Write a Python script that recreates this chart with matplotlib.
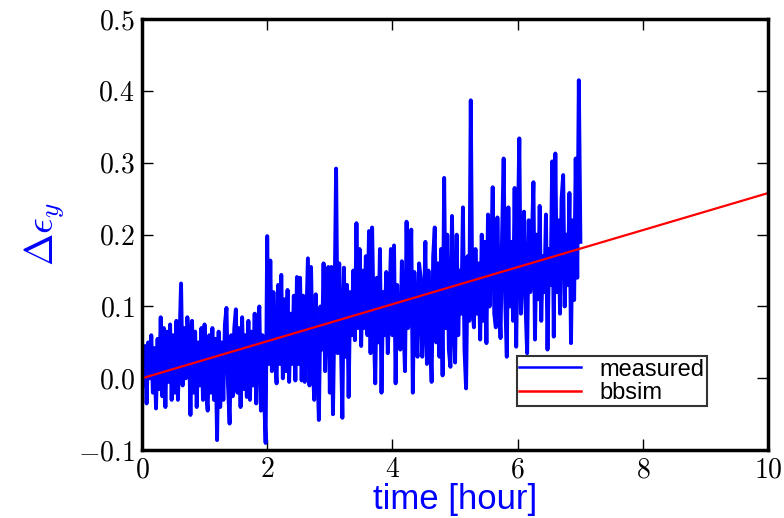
import numpy as np
import matplotlib
matplotlib.use('Agg')
import matplotlib.pyplot as plt
from matplotlib.ticker import FuncFormatter

plt.rcParams['mathtext.fontset'] = 'cm'
plt.rcParams['font.family'] = ['Liberation Sans', 'DejaVu Sans']

# measured emittance growth, one reading every 0.025 hour
meas_t = np.arange(0, 7.0125, 0.025)
meas_y = [
    0.03, -0.01, 0.045, -0.035, 0.05, 0.0, 0.06, -0.02, 0.042, -0.042,
    0.055, -0.015, 0.085, -0.025, 0.07, -0.04, 0.065, -0.005, 0.075, -0.03,
    0.06, -0.02, 0.08, -0.03, 0.05, 0.132, -0.01, 0.07, 0.0, 0.085,
    0.06, -0.051, 0.08, -0.02, 0.065, -0.04, 0.05, -0.01, 0.07, -0.03,
    0.075, -0.02, -0.045, 0.06, -0.02, 0.07, -0.03, 0.055, -0.086, 0.065,
    -0.04, 0.05, -0.03, 0.075, 0.098, -0.01, -0.063, 0.06, -0.025, 0.07,
    0.096, -0.02, 0.07, -0.04, 0.085, -0.015, 0.06, -0.026, 0.08, -0.03,
    0.065, -0.01, 0.09, -0.035, 0.075, 0.1, -0.045, 0.06, -0.02, -0.09,
    0.198, 0.02, 0.164, 0.01, 0.12, 0.03, -0.007, 0.13, 0.02, 0.144,
    0.0, 0.11, 0.01, 0.123, -0.005, 0.09, 0.02, 0.115, -0.003, 0.141,
    0.02, 0.14, -0.003, 0.115, -0.005, 0.08, 0.167, -0.01, 0.155, 0.03,
    -0.03, 0.117, 0.02, -0.058, 0.1, 0.04, 0.16, 0.01, 0.12, 0.155,
    -0.02, 0.155, -0.05, 0.1, 0.292, 0.035, 0.16, 0.06, -0.055, 0.154,
    0.03, 0.13, -0.026, 0.12, 0.06, 0.15, 0.053, 0.216, 0.07, 0.18,
    0.045, 0.15, 0.07, 0.17, 0.06, 0.205, 0.035, 0.21, 0.08, -0.007,
    0.14, 0.05, 0.18, -0.02, 0.12, 0.06, 0.148, 0.035, 0.1, 0.18,
    0.06, 0.185, -0.007, 0.13, 0.05, 0.04, 0.163, 0.08, 0.01, 0.218,
    0.07, 0.12, 0.207, -0.02, 0.148, 0.06, 0.03, 0.16, 0.14, 0.03,
    0.08, 0.19, 0.02, 0.15, 0.06, -0.005, 0.17, 0.21, 0.05, 0.16,
    0.03, 0.18, 0.004, 0.279, 0.07, 0.2, 0.04, 0.016, 0.226, 0.09,
    0.022, 0.2, 0.06, 0.15, 0.09, 0.238, 0.04, -0.014, 0.17, 0.08,
    0.387, 0.1, 0.071, 0.18, 0.09, 0.16, 0.054, 0.2, 0.08, 0.19,
    0.049, 0.228, 0.1, 0.17, 0.266, 0.09, 0.071, 0.224, 0.12, 0.056,
    0.2, 0.306, 0.11, 0.03, 0.238, 0.1, 0.19, 0.08, 0.265, 0.044,
    0.2, 0.334, 0.09, 0.15, 0.232, 0.1, 0.035, 0.22, 0.12, 0.19,
    0.273, 0.054, 0.2, 0.11, 0.24, 0.08, 0.17, 0.12, 0.228, 0.04,
    0.18, 0.13, 0.302, 0.058, 0.313, 0.12, 0.22, 0.09, 0.25, 0.283,
    0.1, 0.2, 0.13, 0.258, 0.049, 0.22, 0.109, 0.306, 0.14, 0.415,
    0.19,
]

# simulation (straight line)
sim_t = [0, 10]
sim_y = [0.0, 0.258]

xticks = [0, 2, 4, 6, 8, 10]
yticks = [-0.1, 0.0, 0.1, 0.2, 0.3, 0.4, 0.5]

fig = plt.figure(figsize=(7.84, 5.18), dpi=100)
ax = fig.add_axes([0.181, 0.131, 0.799, 0.832])

ax.plot(meas_t, meas_y, color='#0000ff', lw=2.8, label='measured')
ax.plot(sim_t, sim_y, color='#ff0000', lw=1.6, label='bbsim')

ax.set_xlim(0, 10)
ax.set_ylim(-0.1, 0.5)
ax.set_xticks(xticks)
ax.set_yticks(yticks)
ax.xaxis.set_major_formatter(FuncFormatter(lambda v, p: r'$%d$' % v))
ax.yaxis.set_major_formatter(FuncFormatter(lambda v, p: r'$%.1f$' % v))
ax.tick_params(direction='in', length=8, width=1, labelsize=20,
               top=True, right=True, pad=5)
for s in ax.spines.values():
    s.set_linewidth(2.5)

ax.set_xlabel('time [hour]', color='#0000ff', fontsize=25, labelpad=0)
ax.set_ylabel(r'$\Delta\epsilon_y$', color='#0000ff', fontsize=28, labelpad=8)

leg = ax.legend(loc='lower left', bbox_to_anchor=(0.599, 0.102),
                borderaxespad=0, fontsize=17, fancybox=False,
                handlelength=2.6, borderpad=0.1, labelspacing=0.05,
                handletextpad=0.8)
leg.get_frame().set_edgecolor('black')
leg.get_frame().set_linewidth(1.5)
for h in leg.get_lines():
    h.set_linewidth(1.8)

plt.savefig('out.png', dpi=100)
